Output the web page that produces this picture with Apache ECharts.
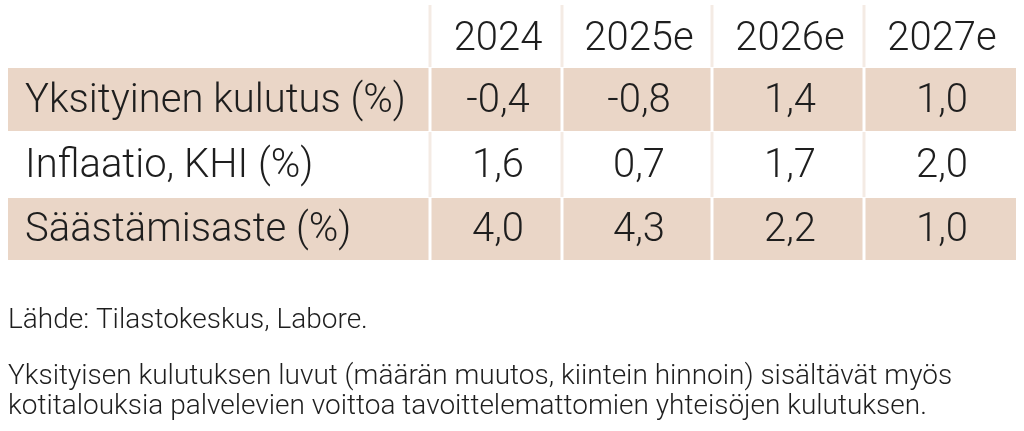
<!DOCTYPE html>
<html><head><meta charset="utf-8">
<script src="https://cdn.jsdelivr.net/npm/echarts@6/dist/echarts.min.js"></script>
<style>html,body{margin:0;padding:0;background:#fff}#c{width:1024px;height:431px}</style>
</head><body><div id="c"></div>
<script>
var years = ['2024','2025e','2026e','2027e'];
var rowLabels = ['Yksityinen kulutus (%)','Inflaatio, KHI (%)','Säästämisaste (%)'];
var values = [
  ['-0,4','-0,8','1,4','1,0'],
  ['1,6','0,7','1,7','2,0'],
  ['4,0','4,3','2,2','1,0']
];
var source = 'Lähde: Tilastokeskus, Labore.';
var note = ['Yksityisen kulutuksen luvut (määrän muutos, kiintein hinnoin) sisältävät myös',
            'kotitalouksia palvelevien voittoa tavoittelemattomien yhteisöjen kulutuksen.'];

var colEdges = [8, 430, 562, 712, 864, 1016];
var rowEdges = [5, 67, 132, 197, 261];
var shade = '#ead6c7';

var cells = [];
years.forEach(function(y,i){ cells.push([i+1, 0, y]); });
rowLabels.forEach(function(l,r){
  cells.push([0, r+1, l]);
  values[r].forEach(function(v,i){ cells.push([i+1, r+1, v]); });
});

var chart = echarts.init(document.getElementById('c'));
chart.setOption({
  animation:false,
  grid:{left:0,right:0,top:0,bottom:0},
  xAxis:{type:'value',min:0,max:1024,show:false},
  yAxis:{type:'value',min:0,max:431,inverse:true,show:false},
  series:[{
    type:'custom',
    data:cells,
    renderItem:function(params, api){
      var c = api.value(0), r = api.value(1), txt = cells[params.dataIndex][2];
      var p0 = api.coord([colEdges[c], rowEdges[r]]);
      var p1 = api.coord([colEdges[c+1], rowEdges[r+1]]);
      var gapL = c===0 ? 0 : 1.5, gapR = c===colEdges.length-2 ? 0 : 1.5;
      var shaded = (r===1 || r===3);
      var children = [];
      children.push({type:'rect', shape:{x:p0[0]+gapL, y:p0[1]+1, width:p1[0]-p0[0]-gapL-gapR, height:p1[1]-p0[1]-2},
        style:{fill: shaded ? shade : '#fff'}});
      if (c>0 && !shaded) {
        children.push({type:'rect', shape:{x:p0[0]-1.5, y:p0[1], width:3, height:p1[1]-p0[1]}, style:{fill:'#f4ebe4'}});
      }
      var isLabel = c===0;
      children.push({type:'text', style:{
        text: txt,
        x: isLabel ? p0[0]+17 : (p0[0]+p1[0])/2 + 2,
        y: (p0[1]+p1[1])/2 + (r===0 ? 4 : 2),
        align: isLabel ? 'left' : 'center',
        verticalAlign:'middle',
        font:'300 40px Roboto', fill:'#1e1e1e'
      }});
      return {type:'group', children:children};
    }
  }],
  graphic:[
    {type:'text', left:8, top:307, style:{text:source, font:'300 28px Roboto', fill:'#1e1e1e'}},
    {type:'text', left:8, top:362, style:{text:note.join('\n'), font:'300 28px Roboto', fill:'#1e1e1e', lineHeight:30}}
  ]
});
</script></body></html>
